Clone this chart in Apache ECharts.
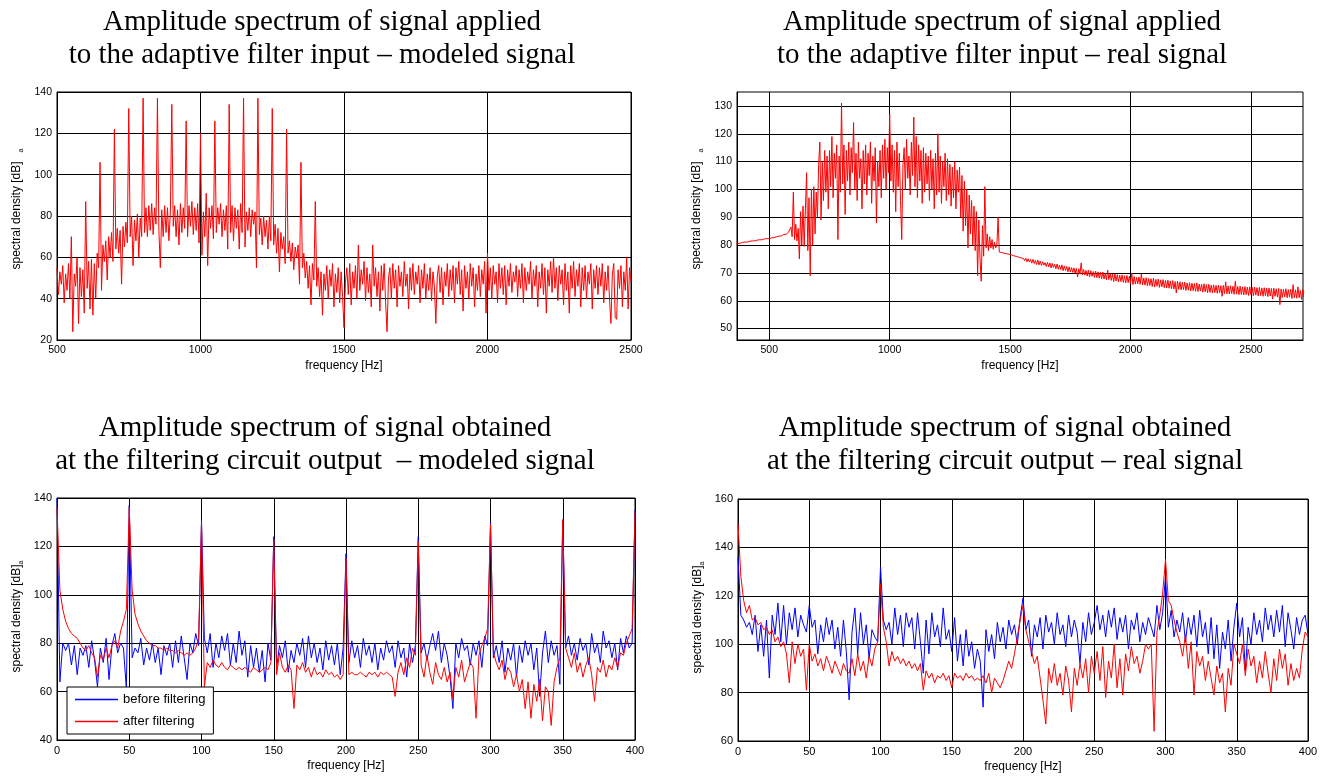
<!DOCTYPE html>
<html>
<head>
<meta charset="utf-8">
<title>Amplitude spectra</title>
<script src="https://cdn.jsdelivr.net/npm/echarts@6/dist/echarts.min.js"></script>
<style>
  html, body { margin: 0; padding: 0; background: #fff; }
  #chart { width: 1327px; height: 776px; }
</style>
</head>
<body>
<div id="chart"></div>
<script>
// ---- data ----

// top left: modeled input signal, 500..2500 Hz every 5 Hz
const inModeledStart = 500, inModeledStep = 5;
const inModeled = [
  55,42,53,47,56,38,52,44,57,40,70,24,52,46,60,28,55,41,54,33,
  87,45,58,35,59,32,57,40,62,55,106,44,66,58,68,49,70,60,72,58,
  122,64,74,62,73,47,75,65,77,67,132,70,80,56,78,68,81,60,79,70,
  137,72,84,70,85,73,86,71,84,76,137,73,55,83,70,85,72,84,68,82,
  134,75,85,70,83,66,86,72,84,74,126,70,85,75,87,71,84,73,86,67,
  120,61,82,70,91,56,84,74,85,69,126,72,84,76,86,70,83,73,85,64,
  134,72,85,68,84,74,83,64,86,72,137,65,82,73,84,70,83,76,82,55,
  137,71,79,66,80,70,78,64,80,68,132,66,76,62,74,53,72,64,70,57,
  122,62,68,58,67,54,65,60,66,47,106,55,62,50,58,45,56,37,57,49,
  87,46,55,41,53,32,52,44,56,40,54,46,57,36,52,43,55,38,53,41,
  26,48,55,42,57,37,53,45,56,40,66,44,54,47,58,39,55,43,52,36,
  66,46,55,41,53,34,56,44,57,38,24,50,55,40,57,45,54,36,56,46,
  53,41,58,46,52,35,55,44,57,42,53,47,56,38,54,45,57,40,52,44,
  55,39,53,46,28,51,56,43,55,37,53,46,57,41,54,44,56,38,55,47,
  58,42,54,34,56,45,53,40,57,46,55,36,52,44,56,41,54,47,58,33,
  62,44,55,40,56,47,53,38,57,45,55,42,56,37,54,46,57,43,53,48,
  56,41,54,45,57,38,55,44,53,47,58,40,54,46,56,36,53,45,57,42,
  55,33,54,46,58,43,60,45,55,39,56,47,54,37,57,44,53,33,56,45,
  58,41,54,46,57,36,55,44,56,40,53,47,57,35,54,45,56,42,55,46,
  57,38,53,44,56,40,28,52,57,31,30,54,45,56,36,53,44,60,35,55,
  48
];

// top right: real input signal, 360..2720 Hz every 5 Hz
const inRealStart = 360, inRealStep = 5;
const inReal = [
  80.4,80.6,80.5,80.8,80.7,80.9,81.0,80.9,81.1,81.2,81.1,81.3,81.4,81.3,81.5,81.6,81.5,81.7,81.8,81.7,
  81.9,82.0,81.9,82.1,82.2,82.1,82.3,82.4,82.3,82.5,82.6,82.5,82.7,82.9,83.0,82.9,83.2,83.4,83.3,83.6,
  83.8,84.0,83.9,84.3,84.6,84.2,86.5,83.0,99.0,82.0,87.5,81.5,86.0,75.0,92.0,80.0,94.0,79.5,93.0,106.0,
  78,97,69,100,80,101,84,99,90,109,117,89,110,96,114,99,112,93,114,101,
  119,97,113,104,116,82,112,99,131,102,116,91,114,103,117,98,115,106,124,100,
  113,96,117,104,111,93,114,102,116,98,113,105,117,95,112,103,115,88,110,101,
  114,97,116,104,118,100,115,106,127,103,116,99,114,92,117,101,113,96,82,109,
  115,100,118,104,112,98,117,105,126,101,119,97,116,103,114,95,115,99,113,102,
  112,96,114,100,111,93,113,98,120,99,112,95,110,101,113,96,111,98,109,94,
  108,97,110,93,107,99,108,90,105,85,103,87,100,79,98,84,96,80,94,78,
  92,69,89,75,67,87,76,101,79,84,78,83,79,82,78.5,81,79,80,90,77.5,
  77.0,77.3,76.8,77.1,76.6,76.9,76.4,76.7,76.2,76.5,75.9,76.2,75.6,75.9,75.3,75.7,75.1,75.4,74.9,75.2,
  74.4,75.3,74.0,75.1,73.9,74.8,73.5,74.9,73.4,74.5,73.0,74.6,72.9,74.2,72.7,74.0,72.8,73.7,72.3,73.8,
  72.2,73.6,71.8,73.4,72.0,73.1,71.5,73.2,71.3,72.8,71.2,72.9,70.8,72.5,70.9,72.3,70.4,72.2,70.3,71.9,
  70.2,71.8,69.9,71.6,68.5,71.5,69.7,73.6,69.3,71.2,69.2,70.9,68.9,71.0,68.6,70.8,68.8,70.5,68.4,70.6,
  68.3,70.4,68.1,70.2,67.9,70.3,67.8,69.9,67.5,71.0,67.6,69.8,67.3,69.6,66.9,69.7,67.1,69.4,66.8,69.2,
  66.9,69.3,66.6,69.0,66.4,69.1,66.5,68.8,66.2,70.0,65.8,68.7,66.0,68.4,66.1,68.5,65.9,69.6,65.7,68.2,
  65.6,68.3,65.4,68.0,65.5,67.9,65.1,68.1,64.9,67.7,65.2,67.8,64.8,67.5,65.0,67.6,64.7,67.3,64.6,67.4,
  64.5,67.1,64.3,67.2,64.2,66.9,62.8,67.0,64.1,66.8,63.9,66.6,64.0,66.7,63.7,66.4,63.8,66.5,63.5,66.3,
  63.6,66.2,63.4,66.4,63.3,66.0,63.5,65.9,63.1,66.1,63.2,65.8,62.9,65.9,63.0,65.6,62.8,65.7,62.9,65.5,
  62.7,65.6,62.9,65.4,61.6,65.5,62.6,66.8,62.5,65.3,62.4,65.4,62.6,65.2,62.3,67.0,62.4,65.1,62.2,65.2,
  62.3,65.0,62.1,65.1,62.2,64.9,61.9,65.0,62.1,64.8,61.8,64.9,62.0,64.7,61.7,64.8,61.9,64.6,61.6,64.7,
  61.8,64.5,61.5,64.6,61.7,64.4,60.6,64.5,61.6,64.3,61.3,64.4,58.6,64.2,61.2,64.1,61.4,64.3,61.1,64.0,
  61.3,64.1,60.8,65.8,61.0,63.9,60.9,65.0,61.1,63.7,60.5,64.0,61.2
];

// bottom plots: 0..400 Hz every 2 Hz
const outStart = 0, outStep = 2;

// bottom left: modeled signal
const modeledBefore = [
  140,64,80,77,80,71,79,67,78,75,79,70,81,73,62,78,72,82,65,79,84,76,80,78,61,
  137,74,78,76,82,71,78,73,80,72,78,67,79,75,80,70,81,72,83,74,65,80,76,84,79,
  131,82,76,84,70,80,74,83,77,84,71,80,72,85,75,81,66,79,70,78,68,77,64,80,73,
  124,70,79,74,81,68,77,72,80,75,82,70,83,74,80,72,78,69,81,73,79,71,80,67,78,
  117,72,81,74,79,70,82,75,79,72,80,69,78,73,81,76,79,70,81,74,78,66,80,72,79,
  124,76,80,73,79,84,77,85,72,80,75,66,53,80,74,82,77,79,71,80,75,81,70,83,79,
  130,74,79,72,81,68,78,73,80,66,79,72,81,75,80,69,78,58,76,85,72,81,75,79,63,
  131,78,83,75,80,73,82,77,80,71,84,76,80,72,85,78,81,74,80,69,82,76,83,78,80,
  135
];
const modeledAfter = [
  136,102,94,89,86,84,83,82,80,78,77,79,76,74,66,75,73,78,74,79,81,78,85,89,94,
  136,102,92,88,85,83,81,80,79,79,78,78,77,78,77,77,76,77,76,75,76,75,76,78,82,
  130,62,72,70,73,71,70,72,70,69,71,70,69,70,69,70,69,68,70,69,68,69,70,69,72,
  123,67,76,70,68,71,69,53,71,69,72,68,70,66,70,67,68,66,69,67,68,66,67,65,67,
  115,67,68,67,67,68,67,66,68,67,68,66,68,67,68,67,66,58,68,72,67,74,70,78,75,
  122,71,66,75,68,63,72,67,65,70,64,68,57,70,66,73,64,68,72,70,49,75,79,82,86,
  129,76,72,69,73,65,70,68,62,67,60,65,53,64,49,63,56,65,48,62,60,46,64,70,74,
  131,78,74,70,76,68,72,66,71,74,67,56,70,68,73,66,71,69,74,70,76,75,80,83,86,
  134
];

// bottom right: real signal
const realBefore = [
  136,112,110,107,109,104,112,97,108,95,110,86,112,104,117,101,116,100,113,106,115,103,112,108,105,
  116,107,110,96,108,101,111,104,110,98,107,95,110,97,77,105,115,96,113,100,108,94,106,103,101,
  132,110,106,109,100,115,104,112,99,113,107,111,98,113,101,88,110,96,113,103,108,99,115,102,106,
  97,111,93,104,91,106,95,101,90,98,93,74,106,97,104,94,109,101,107,98,110,104,108,100,111,
  119,106,110,95,108,103,111,98,112,105,109,100,113,104,108,99,112,103,110,105,92,109,101,113,104,
  109,116,106,112,103,114,107,115,102,111,105,112,98,110,106,113,101,109,104,111,107,103,116,106,113,
  128,107,114,103,110,105,113,101,111,104,112,99,114,103,109,96,111,94,108,90,105,98,110,93,107,
  117,103,111,89,107,100,113,104,110,101,115,106,112,103,114,105,116,99,113,106,98,111,104,110,112,
  104
];
const realAfter = [
  150,128,118,113,116,110,111,108,109,106,107,104,106,101,103,99,101,96,84,101,92,100,95,98,81,
  100,93,96,91,94,89,95,92,88,93,90,87,92,89,88,94,87,96,89,93,86,95,91,98,101,
  125,107,101,91,97,93,95,92,94,91,93,90,92,89,92,81,89,86,88,84,87,86,88,85,87,
  82,88,86,87,85,88,86,87,85,86,85,87,84,88,80,86,84,82,85,89,93,90,96,103,110,
  116,106,101,97,92,95,86,77,67,90,84,92,83,88,79,91,85,72,90,83,92,86,94,80,95,
  88,97,85,99,78,93,86,100,82,94,79,96,89,99,92,95,88,93,100,98,100,64,105,112,121,
  135,118,116,110,105,101,95,104,90,101,79,97,91,95,85,93,86,79,91,84,88,72,90,83,100,
  96,92,100,87,98,91,95,84,93,86,97,88,80,94,85,98,90,96,83,92,85,90,86,98,105,
  103
];

// tick labels of the real-input plot (its axis range does not start on a tick)
const inRealFreqTicks = [500, 1000, 1500, 2000, 2500];
const inRealLevelTicks = [50, 60, 70, 80, 90, 100, 110, 120, 130];

const titles = [
  ['Amplitude spectrum of signal applied', 'to the adaptive filter input \u2013 modeled signal'],
  ['Amplitude spectrum of signal applied', 'to the adaptive filter input \u2013 real signal'],
  ['Amplitude spectrum of signal obtained', 'at the filtering circuit output  \u2013 modeled signal'],
  ['Amplitude spectrum of signal obtained', 'at the filtering circuit output \u2013 real signal']
];

// ---- chart ----
const SANS = '"Liberation Sans", Arial, sans-serif';
const SERIF = '"Liberation Serif", "Times New Roman", serif';

function pairs(start, step, values) {
  return values.map((v, i) => [start + i * step, v]);
}

const plain = v => String(v);

function freqAxis(gi, min, max, fontSize, extra) {
  return Object.assign({
    type: 'value', gridIndex: gi, min: min, max: max,
    name: 'frequency [Hz]', nameLocation: 'middle', nameGap: 20,
    nameTextStyle: { fontFamily: SANS, fontSize: 12, color: '#000' },
    axisLine: { show: true, lineStyle: { color: '#000', width: 1 } },
    axisTick: { show: false },
    axisLabel: { fontFamily: SANS, fontSize: fontSize, color: '#000', margin: 5, formatter: plain },
    splitLine: { show: true, lineStyle: { color: '#000', width: 1 } }
  }, extra);
}

function levelAxis(gi, min, max, subGap, fontSize, extra) {
  return Object.assign({
    type: 'value', gridIndex: gi, min: min, max: max,
    name: '{m|spectral density [dB]}{s|a}', nameLocation: 'middle', nameGap: 32,
    nameTextStyle: {
      color: '#000',
      rich: {
        m: { fontFamily: SANS, fontSize: 12, color: '#000', lineHeight: 16, padding: [0, 0, 0, subGap + 5] },
        s: { fontFamily: SANS, fontSize: 7, color: '#000', verticalAlign: 'bottom', padding: [0, 0, 0, subGap] }
      }
    },
    axisLine: { show: true, lineStyle: { color: '#000', width: 1 } },
    axisTick: { show: false },
    axisLabel: { fontFamily: SANS, fontSize: fontSize, color: '#000', margin: 5, formatter: plain },
    splitLine: { show: true, lineStyle: { color: '#000', width: 1 } }
  }, extra);
}

function line(idx, name, data, color) {
  return {
    type: 'line', name: name, xAxisIndex: idx, yAxisIndex: idx, data: data,
    symbol: 'none', silent: true,
    lineStyle: { color: color, width: 1 }, itemStyle: { color: color }
  };
}

const titleCenters = [[322, 22, 55], [1002, 22, 55], [325, 428, 461], [1005, 428, 461]];
const graphics = [];
titles.forEach((t, i) => {
  const c = titleCenters[i];
  graphics.push({ type: 'text', x: c[0], y: c[1], silent: true,
    style: { text: t[0], fontFamily: SERIF, fontSize: 29, fill: '#000', align: 'center', verticalAlign: 'middle' } });
  graphics.push({ type: 'text', x: c[0], y: c[2], silent: true,
    style: { text: t[1], fontFamily: SERIF, fontSize: 29, fill: '#000', align: 'center', verticalAlign: 'middle' } });
});

const RED = '#ff0000', BLUE = '#0000ff';

const option = {
  animation: false,
  backgroundColor: '#fff',
  graphic: graphics,
  grid: [
    { left: 57, top: 92, width: 574, height: 248, show: true, borderColor: '#000', borderWidth: 1 },
    { left: 737, top: 92, width: 566, height: 248, show: true, borderColor: '#000', borderWidth: 1 },
    { left: 57, top: 498, width: 578, height: 242, show: true, borderColor: '#000', borderWidth: 1 },
    { left: 738, top: 499, width: 570, height: 242, show: true, borderColor: '#000', borderWidth: 1 }
  ],
  xAxis: [
    freqAxis(0, 500, 2500, 10.5, { interval: 500 }),
    freqAxis(1, 366, 2716, 10.5, {
      axisTick: { show: false, customValues: inRealFreqTicks },
      axisLabel: { fontFamily: SANS, fontSize: 10.5, color: '#000', margin: 5, formatter: plain, customValues: inRealFreqTicks }
    }),
    freqAxis(2, 0, 400, 11, { interval: 50 }),
    freqAxis(3, 0, 400, 11, { interval: 50 })
  ],
  yAxis: [
    levelAxis(0, 20, 140, 9, 10.5, { interval: 20 }),
    levelAxis(1, 45.9, 135, 9, 10.5, {
      axisTick: { show: false, customValues: inRealLevelTicks },
      axisLabel: { fontFamily: SANS, fontSize: 10.5, color: '#000', margin: 5, formatter: plain, customValues: inRealLevelTicks }
    }),
    levelAxis(2, 40, 140, 0, 11, { interval: 20 }),
    levelAxis(3, 60, 160, 0, 11, { interval: 20 })
  ],
  legend: {
    orient: 'vertical', left: 67, top: 687,
    data: [{ name: 'before filtering', icon: 'rect' }, { name: 'after filtering', icon: 'rect' }],
    itemWidth: 43, itemHeight: 1.5, itemGap: 9,
    padding: [6, 8, 6, 8],
    backgroundColor: '#fff', borderColor: '#000', borderWidth: 1,
    textStyle: { fontFamily: SANS, fontSize: 13, color: '#000' },
    selectedMode: false
  },
  series: [
    line(0, 'input modeled', pairs(inModeledStart, inModeledStep, inModeled), RED),
    line(1, 'input real', pairs(inRealStart, inRealStep, inReal), RED),
    line(2, 'before filtering', pairs(outStart, outStep, modeledBefore), BLUE),
    line(2, 'after filtering', pairs(outStart, outStep, modeledAfter), RED),
    line(3, 'before filtering (real)', pairs(outStart, outStep, realBefore), BLUE),
    line(3, 'after filtering (real)', pairs(outStart, outStep, realAfter), RED)
  ]
};

const myChart = echarts.init(document.getElementById('chart'));
myChart.setOption(option);
</script>
</body>
</html>
